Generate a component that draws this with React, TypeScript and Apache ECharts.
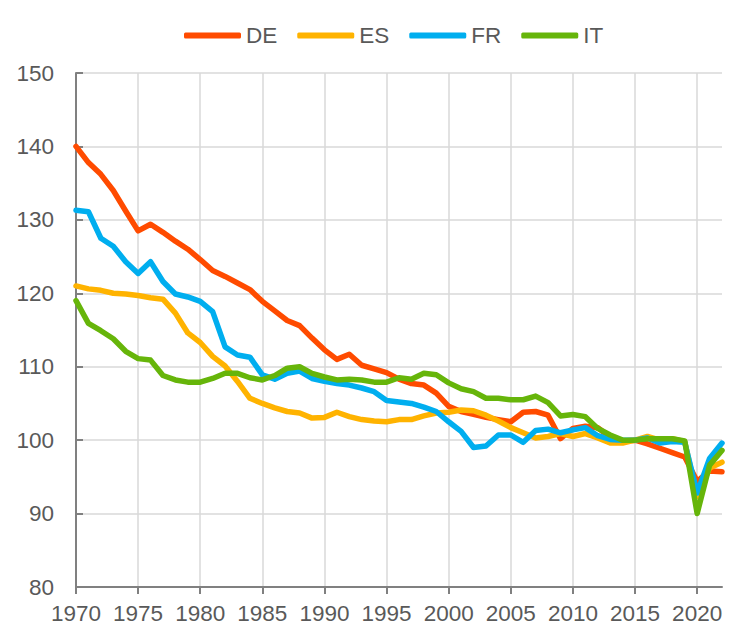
import React, { useEffect, useRef } from "react";
import * as echarts from "echarts";

const years = [
  1970, 1971, 1972, 1973, 1974, 1975, 1976, 1977, 1978, 1979,
  1980, 1981, 1982, 1983, 1984, 1985, 1986, 1987, 1988, 1989,
  1990, 1991, 1992, 1993, 1994, 1995, 1996, 1997, 1998, 1999,
  2000, 2001, 2002, 2003, 2004, 2005, 2006, 2007, 2008, 2009,
  2010, 2011, 2012, 2013, 2014, 2015, 2016, 2017, 2018, 2019,
  2020, 2021, 2022,
];

const tickYears = [1970, 1975, 1980, 1985, 1990, 1995, 2000, 2005, 2010, 2015, 2020];

const seriesNames = ["DE", "ES", "FR", "IT"];
const seriesColors = ["#FF4B00", "#FFB300", "#00AEEF", "#66B50A"];

const DE = [
  140.0, 137.8, 136.2, 134.0, 131.2, 128.5, 129.4, 128.3, 127.1, 126.0,
  124.6, 123.1, 122.3, 121.4, 120.5, 118.9, 117.6, 116.3, 115.6, 113.9,
  112.3, 111.0, 111.7, 110.2, 109.7, 109.2, 108.3, 107.7, 107.5, 106.4,
  104.6, 103.9, 103.5, 103.1, 102.8, 102.5, 103.8, 103.9, 103.4, 100.2,
  101.6, 101.9, 101.7, 100.4, 99.9, 100.0, 99.5, 98.9, 98.3, 97.7,
  94.4, 95.8, 95.7,
];

const ES = [
  121.0, 120.6, 120.4, 120.0, 119.9, 119.7, 119.4, 119.2, 117.3, 114.6,
  113.3, 111.4, 110.1, 108.0, 105.7, 105.0, 104.4, 103.9, 103.7, 103.0,
  103.1, 103.8, 103.2, 102.8, 102.6, 102.5, 102.8, 102.8, 103.3, 103.7,
  103.8, 104.1, 104.0, 103.4, 102.6, 101.7, 101.0, 100.3, 100.5, 100.9,
  100.5, 100.9, 100.3, 99.6, 99.6, 100.0, 100.5, 100.0, 100.2, 99.8,
  92.3, 96.2, 97.0,
];

const FR = [
  131.3, 131.1, 127.5, 126.4, 124.3, 122.7, 124.3, 121.6, 119.9, 119.5,
  118.9, 117.5, 112.7, 111.6, 111.3, 108.9, 108.3, 109.1, 109.4, 108.4,
  108.0, 107.7, 107.5, 107.1, 106.6, 105.4, 105.2, 105.0, 104.5, 103.9,
  102.5, 101.2, 99.0, 99.2, 100.7, 100.7, 99.7, 101.3, 101.5, 101.0,
  101.4, 101.7, 100.6, 100.1, 100.0, 100.0, 100.3, 99.6, 99.8, 99.7,
  92.8, 97.5, 99.6,
];

const IT = [
  119.0, 115.9, 114.9, 113.8, 112.1, 111.1, 110.9, 108.8, 108.2, 107.9,
  107.9, 108.4, 109.1, 109.1, 108.5, 108.2, 108.8, 109.8, 110.0, 109.1,
  108.6, 108.2, 108.3, 108.2, 107.9, 107.9, 108.5, 108.3, 109.1, 108.9,
  107.8, 107.0, 106.6, 105.7, 105.7, 105.5, 105.5, 106.0, 105.1, 103.3,
  103.5, 103.2, 101.6, 100.7, 100.0, 100.0, 100.2, 100.2, 100.2, 99.9,
  90.0, 96.6, 98.6,
];

const seriesValues = [DE, ES, FR, IT];

const FONT = "'Liberation Sans', Arial, sans-serif";
const FONT_SIZE = 22.5;
const TEXT_COLOR = "#595959";
const AXIS_COLOR = "#808080";
const GRID_COLOR = "#D9D9D9";

export default function App() {
  const ref = useRef<HTMLDivElement>(null);

  useEffect(() => {
    document.body.style.margin = "0";
    if (!ref.current) return;
    const chart = echarts.init(ref.current, null, { renderer: "svg" });
    chart.setOption({
      animation: false,
      backgroundColor: "#ffffff",
      textStyle: { fontFamily: FONT },
      legend: {
        left: 179,
        top: 19,
        icon: "roundRect",
        itemWidth: 57,
        itemHeight: 6,
        itemGap: 20,
        data: seriesNames,
        textStyle: { color: TEXT_COLOR, fontSize: FONT_SIZE, fontFamily: FONT },
      },
      grid: {
        left: 76,
        right: 9,
        top: 73,
        bottom: 45,
        containLabel: false,
        outerBoundsMode: "none",
      },
      xAxis: {
        type: "value",
        min: 1970,
        max: 2022,
        interval: 5,
        axisLine: { show: true, lineStyle: { color: AXIS_COLOR, width: 2 } },
        axisTick: {
          show: true,
          inside: false,
          length: 7,
          customValues: tickYears,
          lineStyle: { color: AXIS_COLOR, width: 2 },
        },
        axisLabel: {
          customValues: tickYears,
          margin: 15,
          fontSize: FONT_SIZE,
          color: TEXT_COLOR,
          fontFamily: FONT,
          formatter: (v: number) => String(v),
        },
        splitLine: { show: true, lineStyle: { color: GRID_COLOR, width: 1.5 } },
      },
      yAxis: {
        type: "value",
        min: 80,
        max: 150,
        interval: 10,
        axisLine: { show: true, lineStyle: { color: AXIS_COLOR, width: 2 } },
        axisTick: {
          show: true,
          inside: true,
          length: 7,
          lineStyle: { color: AXIS_COLOR, width: 2 },
        },
        axisLabel: {
          margin: 22,
          fontSize: FONT_SIZE,
          color: TEXT_COLOR,
          fontFamily: FONT,
        },
        splitLine: { show: true, lineStyle: { color: GRID_COLOR, width: 1.5 } },
      },
      series: seriesNames.map((name, k) => ({
        name,
        type: "line",
        symbol: "none",
        showSymbol: false,
        color: seriesColors[k],
        lineStyle: { width: 5.5, color: seriesColors[k], join: "round", cap: "round" },
        data: years.map((yr, i) => [yr, seriesValues[k][i]]),
        z: 2 + k,
      })),
    });
    return () => chart.dispose();
  }, []);

  return <div ref={ref} style={{ width: 731, height: 632 }} />;
}
